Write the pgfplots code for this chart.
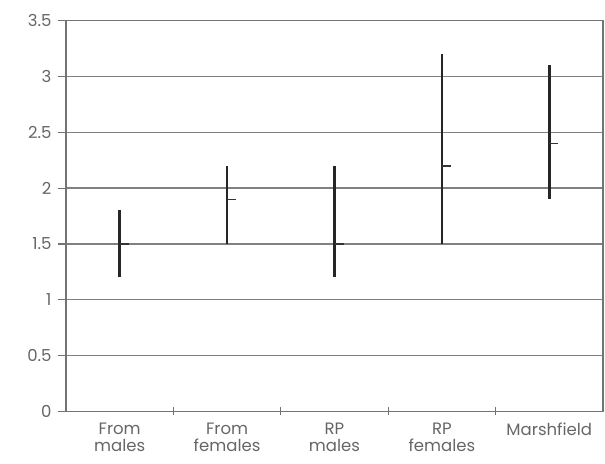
\documentclass[border=0pt]{standalone}
\usepackage{fontspec}
\setmainfont{Poppins}
\usepackage{pgfplots}
\pgfplotsset{compat=1.18}
\usepackage{pgfplotstable}

% category, mean, lowest and highest value
\pgfplotstableread{
x mean low high
0 1.5 1.2 1.8
1 1.9 1.5 2.2
2 1.5 1.2 2.2
3 2.2 1.5 3.2
4 2.4 1.9 3.1
}\ranges

% short dash to the right of the range line, marking the mean
\pgfdeclareplotmark{meantick}{%
  \pgfpathmoveto{\pgfqpoint{0pt}{0pt}}%
  \pgfpathlineto{\pgfqpoint{9pt}{0pt}}%
  \pgfusepathqstroke}

\begin{document}
\begin{tikzpicture}
\begin{axis}[
  scale only axis,
  width=537pt, height=390.6pt,
  xmin=-0.5, xmax=4.5,
  ymin=0, ymax=3.5,
  ytick={0,0.5,...,3.5},
  yticklabels={0,0.5,1,1.5,2,2.5,3,3.5},
  ytick pos=left,
  ymajorgrids,
  grid style={black!50, line width=1.3pt},
  axis line style={black!55, line width=1.3pt},
  tick style={black!55, line width=1.2pt},
  major tick length=8pt,
  ytick align=outside,
  xtick={0.5,1.5,2.5,3.5},
  xticklabels={},
  xtick pos=bottom,
  xtick align=center,
  extra x ticks={0,1,2,3,4},
  extra x tick labels={From\\males, From\\females, RP\\males, RP\\females, Marshfield},
  extra x tick style={major tick length=0pt,
    xticklabel style={align=center, font=\fontsize{16.5}{17.5}\selectfont}},
  every tick label/.append style={text=black!60, font=\fontsize{16.5}{17.5}\selectfont},
  /pgf/number format/assume math mode=true,
  yticklabel style={xshift=-3pt},
  xticklabel style={yshift=-8pt},
]
\addplot[black!85, mark=meantick, mark options={line width=1.5pt, black!80},
  only marks,
  error bars/.cd, y dir=both, y explicit, error mark=none,
  error bar style={line width=2.6pt, black!85}]
  table[x=x, y=mean,
        y error plus expr=\thisrow{high}-\thisrow{mean},
        y error minus expr=\thisrow{mean}-\thisrow{low}] {\ranges};
\end{axis}
\pgfresetboundingbox
\path[use as bounding box] ([xshift=-66pt,yshift=-51.7pt]current axis.south west)
  rectangle ([xshift=2pt,yshift=20.7pt]current axis.north east);
\end{tikzpicture}
\end{document}
